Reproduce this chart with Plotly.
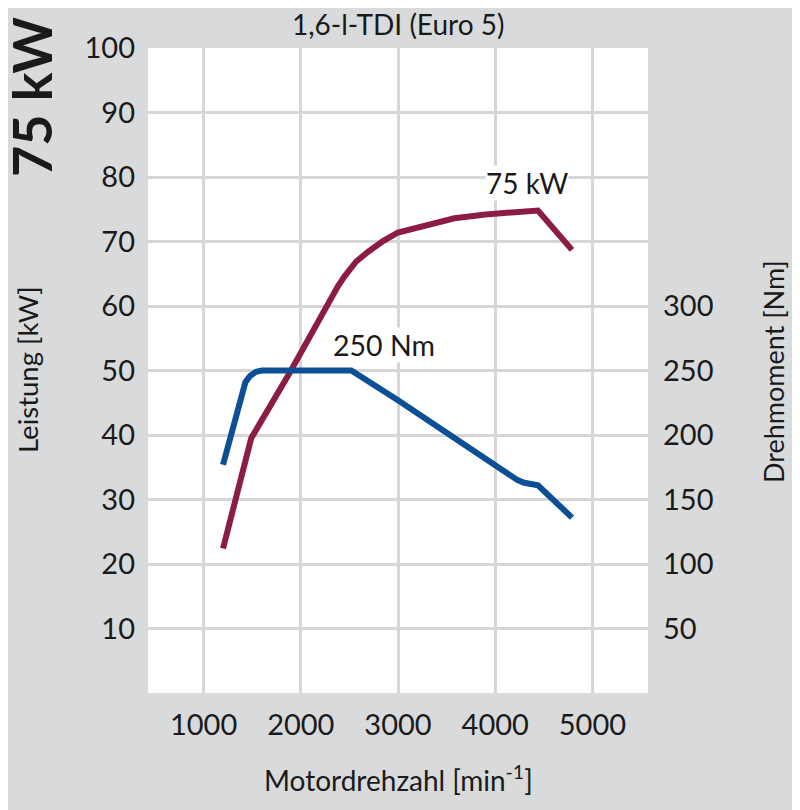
import plotly.graph_objects as go

# --- data ---
rpm_power = [1200, 1490, 1880, 2200, 2300, 2380, 2450, 2570, 2700, 2850, 3000, 3300, 3580, 3900, 4200, 4440, 4790]
power_kw = [22.4, 39.5, 49.5, 58.4, 61.0, 63.0, 64.6, 66.9, 68.5, 70.1, 71.4, 72.6, 73.6, 74.2, 74.5, 74.8, 68.7]

rpm_torque = [1200, 1430, 1480, 1540, 1600, 2520, 3000, 4000, 4150, 4230, 4300, 4440, 4790]
torque_nm = [177, 241, 246, 249, 250, 250, 227, 177, 170, 165, 163, 161, 136]

x_ticks = [1000, 2000, 3000, 4000, 5000]
y_ticks = [10, 20, 30, 40, 50, 60, 70, 80, 90, 100]
y2_ticks = [50, 100, 150, 200, 250, 300]

FONT = "Lato"
TXT = "#1a1a1a"
BG = "#d9dadc"
GRID = "#d6d6d6"

fig = go.Figure()
fig.add_trace(go.Scatter(x=rpm_torque, y=torque_nm, yaxis="y2", mode="lines",
                         line=dict(color="#0b4f95", width=6), hoverinfo="skip"))
fig.add_trace(go.Scatter(x=rpm_power, y=power_kw, mode="lines",
                         line=dict(color="#8b1c46", width=6), hoverinfo="skip"))

fig.update_layout(
    width=800, height=810,
    margin=dict(l=140, r=160, t=40, b=125),
    paper_bgcolor=BG, plot_bgcolor="white",
    showlegend=False,
    font=dict(family=FONT, color=TXT, size=28),
    xaxis=dict(range=[428, 5572], tickvals=x_ticks, showgrid=True, gridcolor=GRID, gridwidth=3,
               zeroline=False, showline=False, ticks="", ticklabelstandoff=12,
               tickfont=dict(size=29, family=FONT, color=TXT), fixedrange=True),
    yaxis=dict(range=[0, 100], tickvals=y_ticks, showgrid=True, gridcolor=GRID, gridwidth=3,
               zeroline=False, showline=False, ticks="", ticklabelstandoff=12,
               tickfont=dict(size=29, family=FONT, color=TXT), fixedrange=True),
    yaxis2=dict(range=[0, 500], tickvals=y2_ticks, overlaying="y", side="right", showgrid=False,
                zeroline=False, showline=False, ticks="", ticklabelstandoff=14,
                tickfont=dict(size=29, family=FONT, color=TXT), fixedrange=True),
)


def pa(text, px, py, size, angle=0):
    return dict(text=text, x=(px - 148) / 500, y=(693 - py) / 645, xref="paper", yref="paper",
                xanchor="center", yanchor="middle", showarrow=False, textangle=angle,
                font=dict(size=size, family=FONT, color=TXT))


ann = [
    pa("1,6-l-TDI (Euro 5)", 398, 24, 28),
    pa("<b>75 kW</b>", 32, 97, 54, -90),
    pa("Leistung [kW]", 27, 370, 27.5, -90),
    pa("Drehmoment [Nm]", 773, 372, 27, -90),
    pa("Motordrehzahl [min<sup>-1</sup>]", 398, 778, 28),
    dict(text="250 Nm", x=2860, y=53.9, xref="x", yref="y", showarrow=False, bgcolor="white",
         xanchor="center", yanchor="middle", borderpad=0, font=dict(size=28.5, family=FONT, color=TXT)),
    dict(text="75 kW", x=4330, y=79.1, xref="x", yref="y", showarrow=False, bgcolor="white",
         xanchor="center", yanchor="middle", borderpad=0, font=dict(size=28, family=FONT, color=TXT)),
]
fig.update_layout(annotations=ann)

fig.write_html("out.html")
